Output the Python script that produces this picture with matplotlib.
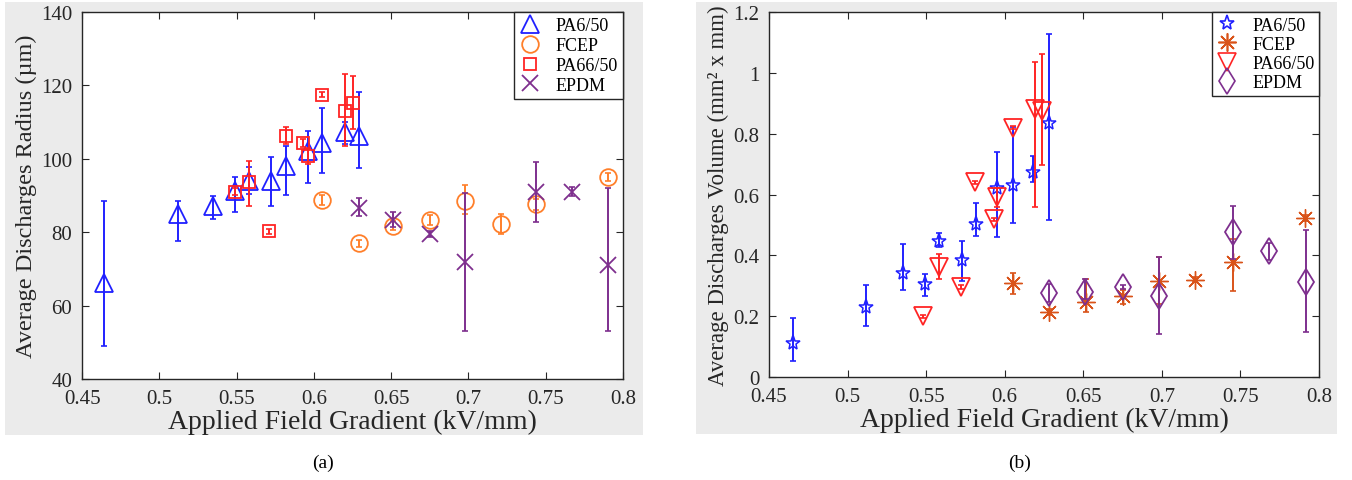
import matplotlib
matplotlib.use('Agg')
import matplotlib.pyplot as plt
from matplotlib.lines import Line2D
from matplotlib.patches import Rectangle
import numpy as np

plt.rcParams['font.family'] = ['Liberation Serif', 'DejaVu Serif']
plt.rcParams['mathtext.fontset'] = 'stix'

# ---- panel (a): average discharge radius (um) ----
a_pa6_x = [0.464, 0.512, 0.535, 0.549, 0.558, 0.572, 0.582, 0.596, 0.605, 0.620, 0.629]
a_pa6_y = [66.2, 85.0, 87.0, 91.2, 94.0, 94.0, 98.0, 102.0, 104.3, 107.3, 106.3]
a_pa6_lo = [49.0, 77.5, 83.6, 85.5, 90.5, 87.0, 90.0, 93.4, 96.0, 104.0, 97.5]
a_pa6_hi = [88.5, 88.5, 89.9, 95.0, 97.7, 100.5, 103.5, 107.6, 113.8, 110.0, 118.2]

a_fcep_x = [0.605, 0.629, 0.651, 0.675, 0.698, 0.721, 0.744, 0.790]
a_fcep_y = [88.8, 77.0, 81.7, 83.4, 88.5, 82.2, 87.6, 95.0]
a_fcep_lo = [87.5, 76.0, 80.5, 82.0, 85.0, 79.5, 86.0, 94.0]
a_fcep_hi = [90.0, 78.0, 83.0, 84.8, 92.9, 85.0, 89.0, 96.0]

a_pa66_x = [0.549, 0.558, 0.571, 0.582, 0.593, 0.596, 0.605, 0.620, 0.625]
a_pa66_y = [91.0, 93.6, 80.3, 106.3, 104.3, 100.8, 117.5, 113.0, 115.2]
a_pa66_lo = [90.0, 87.0, 79.5, 104.0, 103.2, 98.5, 116.8, 103.5, 108.0]
a_pa66_hi = [92.0, 99.5, 81.0, 108.6, 105.4, 103.0, 118.2, 123.0, 122.5]

a_epdm_x = [0.629, 0.651, 0.675, 0.698, 0.744, 0.767, 0.790]
a_epdm_y = [86.6, 83.4, 79.5, 71.9, 91.0, 91.0, 71.1]
a_epdm_lo = [84.4, 81.4, 78.8, 53.1, 82.7, 89.8, 53.0]
a_epdm_hi = [89.3, 85.5, 80.2, 90.7, 99.1, 92.2, 92.0]

# ---- panel (b): average discharge volume (mm2 x mm) ----
b_pa6_x = [0.465, 0.512, 0.535, 0.549, 0.558, 0.573, 0.582, 0.595, 0.605, 0.618, 0.628]
b_pa6_y = [0.112, 0.230, 0.342, 0.306, 0.447, 0.384, 0.503, 0.621, 0.631, 0.674, 0.835]
b_pa6_lo = [0.053, 0.168, 0.286, 0.266, 0.427, 0.316, 0.463, 0.460, 0.506, 0.641, 0.516]
b_pa6_hi = [0.194, 0.302, 0.437, 0.339, 0.473, 0.447, 0.572, 0.739, 0.822, 0.726, 1.128]

b_fcep_x = [0.605, 0.628, 0.652, 0.675, 0.698, 0.721, 0.745, 0.791]
b_fcep_y = [0.309, 0.214, 0.247, 0.266, 0.316, 0.320, 0.378, 0.523]
b_fcep_lo = [0.273, 0.204, 0.214, 0.240, 0.240, 0.312, 0.283, 0.513]
b_fcep_hi = [0.342, 0.224, 0.322, 0.286, 0.394, 0.328, 0.454, 0.533]

b_pa66_x = [0.548, 0.558, 0.572, 0.581, 0.593, 0.595, 0.605, 0.619, 0.624]
b_pa66_y = [0.200, 0.362, 0.296, 0.641, 0.519, 0.591, 0.820, 0.881, 0.875]
b_pa66_lo = [0.195, 0.322, 0.291, 0.636, 0.514, 0.560, 0.815, 0.558, 0.697]
b_pa66_hi = [0.205, 0.404, 0.301, 0.646, 0.524, 0.620, 0.825, 1.035, 1.062]

b_epdm_x = [0.628, 0.651, 0.675, 0.698, 0.745, 0.768, 0.792]
b_epdm_y = [0.276, 0.279, 0.296, 0.266, 0.476, 0.414, 0.312]
b_epdm_lo = [0.246, 0.256, 0.290, 0.141, 0.389, 0.385, 0.148]
b_epdm_hi = [0.306, 0.322, 0.302, 0.394, 0.563, 0.440, 0.483]

series_names = ['PA6/50', 'FCEP', 'PA66/50', 'EPDM']
x_ticks = [0.45, 0.5, 0.55, 0.6, 0.65, 0.7, 0.75, 0.8]
x_ticklabels = ['0.45', '0.5', '0.55', '0.6', '0.65', '0.7', '0.75', '0.8']
a_yticks = [40, 60, 80, 100, 120, 140]
b_yticks = [0, 0.2, 0.4, 0.6, 0.8, 1.0, 1.2]
b_yticklabels = ['0', '0.2', '0.4', '0.6', '0.8', '1', '1.2']

BLUE = '#2020ff'
ORANGE = '#ff7f2a'
RED = '#ff2424'
PURPLE = '#7e2f8e'
RUST = '#d95319'
FRAME = '#262626'


def draw_series(ax, x, y, lo, hi, color, marker, ms, mew=1.3):
    y = np.array(y)
    yerr = [y - np.array(lo), np.array(hi) - y]
    ax.errorbar(x, y, yerr=yerr, fmt='none', ecolor=color, elinewidth=1.4,
                capsize=2.5, capthick=1.2)
    ax.plot(x, y, linestyle='none', marker=marker, markersize=ms,
            markerfacecolor='none', markeredgecolor=color, markeredgewidth=mew)


def style_axes(ax):
    ax.set_xlim(0.45, 0.8)
    ax.set_xticks(x_ticks)
    ax.set_xticklabels(x_ticklabels)
    ax.tick_params(direction='in', top=True, right=True, length=5,
                   width=0.8, colors=FRAME, labelsize=15, pad=7)
    for s in ax.spines.values():
        s.set_color(FRAME)
        s.set_linewidth(1.0)
    ax.set_xlabel('Applied Field Gradient (kV/mm)', fontsize=20, color=FRAME,
                  labelpad=1)


fig = plt.figure(figsize=(13.52, 4.81), dpi=100)
fig.patch.set_facecolor('white')

# grey backgrounds behind each panel
fig.patches.append(Rectangle((0.0037, 0.0936), 0.4719, 0.9002,
                             transform=fig.transFigure, facecolor='#ebebeb',
                             edgecolor='none', zorder=-5))
fig.patches.append(Rectangle((0.5148, 0.0956), 0.4741, 0.8980,
                             transform=fig.transFigure, facecolor='#ebebeb',
                             edgecolor='none', zorder=-5))

# ---- (a) ----
ax1 = fig.add_axes([0.0607, 0.21, 0.4001, 0.763])
draw_series(ax1, a_pa6_x, a_pa6_y, a_pa6_lo, a_pa6_hi, BLUE, '^', 13)
draw_series(ax1, a_fcep_x, a_fcep_y, a_fcep_lo, a_fcep_hi, ORANGE, 'o', 12)
draw_series(ax1, a_pa66_x, a_pa66_y, a_pa66_lo, a_pa66_hi, RED, 's', 9)
draw_series(ax1, a_epdm_x, a_epdm_y, a_epdm_lo, a_epdm_hi, PURPLE, 'x', 11)
style_axes(ax1)
ax1.set_ylim(40, 140)
ax1.set_yticks(a_yticks)
ax1.set_ylabel('Average Discharges Radius (µm)', fontsize=17.5, color=FRAME,
               labelpad=3)

h1 = [Line2D([], [], ls='none', marker=m, ms=s, mfc='none', mec=c, mew=1.3)
      for m, s, c in [('^', 13, BLUE), ('o', 12, ORANGE), ('s', 9, RED), ('x', 11, PURPLE)]]
leg1 = ax1.legend(h1, series_names, loc='upper right', borderaxespad=0,
                  fancybox=False, framealpha=1, edgecolor=FRAME, fontsize=13,
                  handlelength=1.2, handletextpad=0.8, labelspacing=0.15,
                  borderpad=0.3)
leg1.get_frame().set_linewidth(1.0)

# ---- (b) ----
ax2 = fig.add_axes([0.5688, 0.2141, 0.4068, 0.7588])
draw_series(ax2, b_pa6_x, b_pa6_y, b_pa6_lo, b_pa6_hi, BLUE, '*', 11, 1.1)
draw_series(ax2, b_fcep_x, b_fcep_y, b_fcep_lo, b_fcep_hi, RUST, (8, 2, 0), 13, 1.0)
draw_series(ax2, b_pa66_x, b_pa66_y, b_pa66_lo, b_pa66_hi, RED, 'v', 13)
draw_series(ax2, b_epdm_x, b_epdm_y, b_epdm_lo, b_epdm_hi, PURPLE, 'd', 13)
style_axes(ax2)
ax2.set_ylim(0, 1.2)
ax2.set_yticks(b_yticks)
ax2.set_yticklabels(b_yticklabels)
ax2.set_ylabel('Average Discharges Volume (mm² x mm)', fontsize=16.5,
               color=FRAME, labelpad=3)

h2 = [Line2D([], [], ls='none', marker=m, ms=s, mfc='none', mec=c, mew=1.2)
      for m, s, c in [('*', 11, BLUE), ((8, 2, 0), 13, RUST), ('v', 13, RED), ('d', 13, PURPLE)]]
leg2 = ax2.legend(h2, series_names, loc='upper right', borderaxespad=0,
                  fancybox=False, framealpha=1, edgecolor=FRAME, fontsize=13,
                  handlelength=1.2, handletextpad=0.8, labelspacing=0.12,
                  borderpad=0.25)
leg2.get_frame().set_linewidth(1.0)

# captions
fig.text(323 / 1352, 1 - 463 / 481, '(a)', fontsize=14, ha='center', va='center')
fig.text(1020 / 1352, 1 - 463 / 481, '(b)', fontsize=14, ha='center', va='center')

fig.savefig('out.png', dpi=100)
